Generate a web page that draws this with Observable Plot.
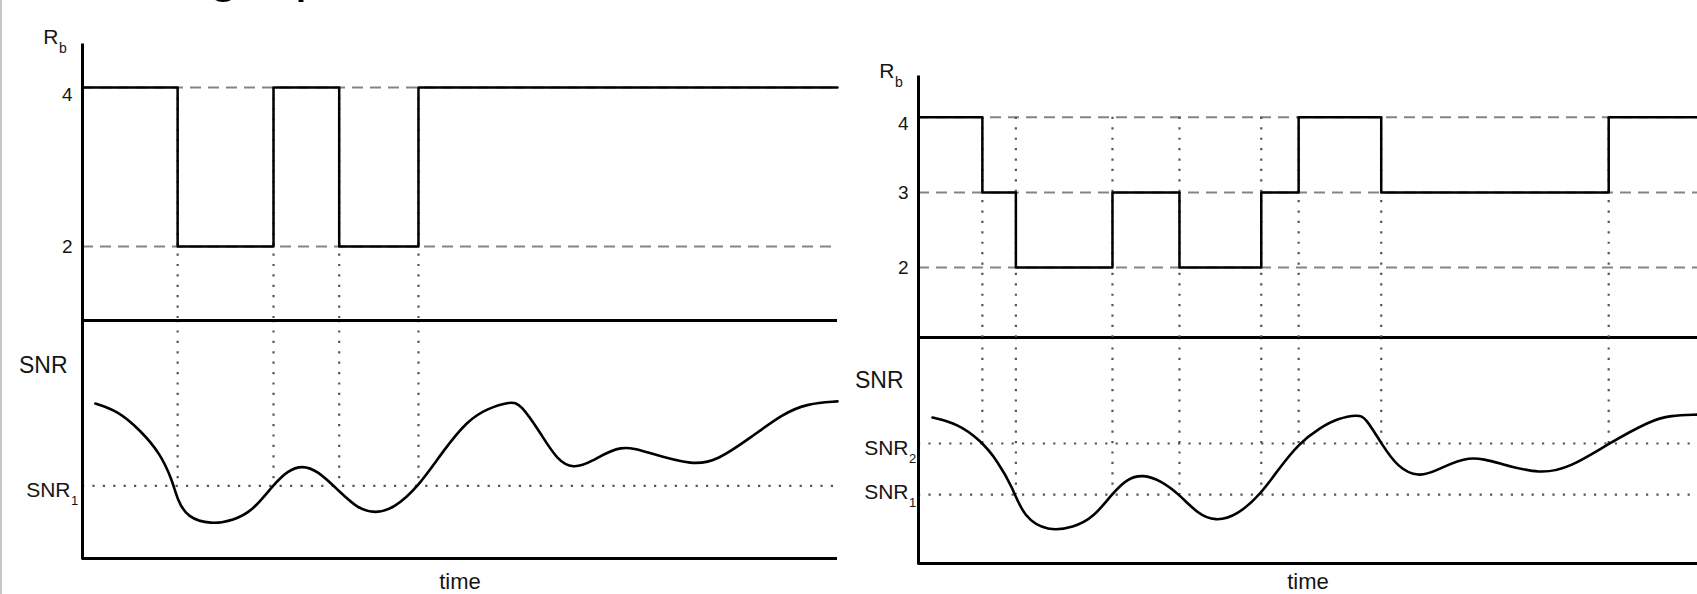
<!DOCTYPE html>
<html>
<head>
<meta charset="utf-8">
<script src="https://cdn.jsdelivr.net/npm/d3@7"></script>
<script src="https://cdn.jsdelivr.net/npm/@observablehq/plot@0.6"></script>
<style>
  html, body { margin: 0; padding: 0; background: #fff; overflow: hidden; }
  #wrap { position: relative; width: 1697px; height: 594px; overflow: hidden; background: #fff; }
  #edge { position: absolute; left: 0; top: 0; width: 2px; height: 594px; background: #c6c6c6; }
  #title { position: absolute; left: 208px; top: -57px; font: 56px/1 "Liberation Sans", Arial, sans-serif;
           word-spacing: 40px; color: #000; white-space: nowrap; }
  #wrap svg { position: absolute; }
</style>
</head>
<body>
<div id="wrap"><div id="edge"></div><div id="title">g p</div></div>
<script>
// ---------------- data ----------------
const timeDomain = [0, 100];
const rbDomain = [1.07, 4.53];
const snrDomain = [0, 10];

// left chart
const leftRbTicks = [4, 2];
const leftRbTimes = [0, 12.6, 25.3, 34.0, 44.5, 100];
const leftRbValues = [4, 2, 4, 2, 4, 4];
const leftSwitchTimes = [12.6, 25.3, 34.0, 44.5];
const leftSwitchLevels = [3.05, 3.05, 3.05, 3.05];
const leftThresholdNames = ["1"];
const leftThresholdValues = [3.05];
const leftSnrTimes = [1.7, 1.7, 4.6, 7.7, 10.3, 11.9, 12.6, 13.9, 17.0, 20.0, 22.6, 25.2, 27.2, 29.1, 31.1, 33.9, 36.4, 38.8, 41.2, 44.4, 47.8, 51.0, 53.6, 56.7, 58.0, 60.7, 62.9, 65.0, 67.3, 71.3, 75.2, 80.9, 84.1, 88.5, 92.8, 96.0, 100, 100];
const leftSnrValues = [6.51, 6.51, 6.22, 5.38, 4.41, 3.28, 2.44, 1.72, 1.43, 1.60, 2.02, 3.07, 3.70, 3.91, 3.70, 2.86, 2.10, 1.89, 2.10, 2.98, 4.54, 5.80, 6.30, 6.60, 6.51, 5.25, 4.12, 3.78, 4.03, 4.83, 4.41, 3.91, 4.12, 5.08, 6.09, 6.51, 6.60, 6.60];

// right chart
const rightRbTicks = [4, 3, 2];
const rightRbTimes = [0, 8.2, 12.5, 24.9, 33.5, 44.0, 48.8, 59.4, 88.6, 100];
const rightRbValues = [4, 3, 2, 3, 2, 3, 4, 3, 4, 4];
const rightSwitchTimes = [8.2, 12.5, 24.9, 33.5, 44.0, 48.8, 59.4, 88.6];
const rightSwitchLevels = [5.31, 3.05, 3.05, 3.05, 3.05, 5.31, 5.31, 5.31];
const rightThresholdNames = ["2", "1"];
const rightThresholdValues = [5.31, 3.05];
const rightSnrTimes = [1.8, 1.8, 5.0, 8.0, 10.1, 12.1, 13.5, 16.6, 19.9, 22.5, 24.9, 26.8, 28.8, 31.1, 33.5, 35.8, 38.1, 40.9, 44.0, 46.1, 48.8, 51.6, 53.8, 56.4, 57.4, 59.4, 61.5, 64.2, 66.6, 70.6, 74.7, 79.8, 83.7, 88.6, 94.0, 96.5, 100, 100];
const rightSnrValues = [6.46, 6.46, 6.19, 5.44, 4.56, 3.36, 2.04, 1.42, 1.59, 2.04, 3.10, 3.76, 3.94, 3.67, 3.05, 2.21, 1.86, 2.12, 3.10, 4.12, 5.31, 6.02, 6.42, 6.59, 6.46, 5.31, 4.25, 3.81, 4.12, 4.82, 4.42, 3.94, 4.25, 5.31, 6.33, 6.55, 6.59, 6.59];

// ---------------- style ----------------
const FONT = '"Liberation Sans", Arial, Helvetica, sans-serif';
const INK = "#000";
const TEXT = "#151515";
const GRID = "#858585";
const DOT = "#555";
const DASH = "11,7";
const DOTS = "2.2,8.2";

const layout = {
  left:  { left: 0,   width: 845, axis: 82, right: 8, top: 45, divider: 320, bottom: 558,
           rbDy: -2, snrDy: 52, thDx: -12, thDy: [11], timeDy: 30 },
  right: { left: 845, width: 852, axis: 73, right: 0, top: 77, divider: 337, bottom: 563,
           rbDy: 0, snrDy: 50, thDx: -10, thDy: [12, 4], timeDy: 25 }
};
const BOTTOM_TOP = 300, BOTTOM_H = 294;

function rbPlot(d, L) {
  const steps = d.rbTimes.map((t, i) => ({t, rb: d.rbValues[i]}));
  const top = d3.max(d.rbTicks);
  const switches = d.switchTimes.map(t => ({t}));
  const first = d.rbTicks.filter(v => v === top);
  const rest = d.rbTicks.filter(v => v !== top);
  const axisOpts = {tickSize: 0, tickPadding: 10, fontSize: 19, label: null, fill: TEXT, tickFormat: v => String(v)};
  const svg = Plot.plot({
    width: L.width, height: L.divider + 2,
    marginLeft: L.axis, marginRight: L.right, marginTop: L.top, marginBottom: 2,
    style: {fontFamily: FONT, background: "transparent", overflow: "visible", color: TEXT},
    x: {domain: timeDomain, axis: null},
    y: {domain: rbDomain, axis: null},
    marks: [
      Plot.ruleY(d.rbTicks, {stroke: GRID, strokeWidth: 2, strokeDasharray: DASH}),
      Plot.ruleX(switches, {x: "t", y1: top, y2: rbDomain[0], stroke: DOT, strokeWidth: 2.2, strokeDasharray: DOTS}),
      Plot.line(steps, {x: "t", y: "rb", curve: "step-after", stroke: INK, strokeWidth: 2.5}),
      Plot.ruleX([0], {stroke: INK, strokeWidth: 3, strokeLinecap: "square"}),
      Plot.axisY(first, {...axisOpts, dy: 7}),
      Plot.axisY(rest, {...axisOpts}),
      Plot.text(["R"], {frameAnchor: "top-left", dx: -24, dy: L.rbDy, textAnchor: "end", lineAnchor: "bottom", fontSize: 21, fill: TEXT}),
      Plot.text(["b"], {frameAnchor: "top-left", dx: -23.5, dy: L.rbDy + 9, textAnchor: "start", lineAnchor: "bottom", fontSize: 14, fill: TEXT})
    ]
  });
  svg.style.left = L.left + "px";
  svg.style.top = "0px";
  return svg;
}

function snrPlot(d, L) {
  const curve = d.snrTimes.map((t, i) => ({t, snr: d.snrValues[i]}));
  const switches = d.switchTimes.map((t, i) => ({t, level: d.switchLevels[i]}));
  const thresholds = d.thresholdNames.map((n, i) => ({n, v: d.thresholdValues[i], dy: L.thDy[i]}));
  const svg = Plot.plot({
    width: L.width, height: BOTTOM_H,
    marginLeft: L.axis, marginRight: L.right,
    marginTop: L.divider - BOTTOM_TOP, marginBottom: BOTTOM_H - (L.bottom - BOTTOM_TOP),
    style: {fontFamily: FONT, background: "transparent", overflow: "visible", color: TEXT},
    x: {domain: timeDomain, axis: null},
    y: {domain: snrDomain, axis: null},
    marks: [
      Plot.ruleY(thresholds, {y: "v", stroke: DOT, strokeWidth: 2.2, strokeDasharray: DOTS}),
      Plot.ruleX(switches, {x: "t", y1: snrDomain[1], y2: "level", stroke: DOT, strokeWidth: 2.2, strokeDasharray: DOTS}),
      Plot.line(curve, {x: "t", y: "snr", curve: "basis", stroke: INK, strokeWidth: 2.6}),
      Plot.ruleX([0], {stroke: INK, strokeWidth: 3, strokeLinecap: "square"}),
      Plot.ruleY([snrDomain[0], snrDomain[1]], {stroke: INK, strokeWidth: 3}),
      Plot.text(["SNR"], {frameAnchor: "top-left", dx: -15, dy: L.snrDy, textAnchor: "end", lineAnchor: "bottom", fontSize: 23, fill: TEXT}),
      ...thresholds.flatMap(th => [
        Plot.text([th], {x: 0, y: "v", text: () => "SNR", dx: L.thDx, dy: th.dy, textAnchor: "end", lineAnchor: "bottom", fontSize: 21, fill: TEXT}),
        Plot.text([th], {x: 0, y: "v", text: "n", dx: L.thDx + 0.5, dy: th.dy + 8, textAnchor: "start", lineAnchor: "bottom", fontSize: 13, fill: TEXT})
      ]),
      Plot.text(["time"], {frameAnchor: "bottom", dy: L.timeDy, lineAnchor: "bottom", fontSize: 22, fill: TEXT})
    ]
  });
  svg.style.left = L.left + "px";
  svg.style.top = BOTTOM_TOP + "px";
  return svg;
}

const leftData = {
  rbTicks: leftRbTicks, rbTimes: leftRbTimes, rbValues: leftRbValues,
  switchTimes: leftSwitchTimes, switchLevels: leftSwitchLevels,
  thresholdNames: leftThresholdNames, thresholdValues: leftThresholdValues,
  snrTimes: leftSnrTimes, snrValues: leftSnrValues
};
const rightData = {
  rbTicks: rightRbTicks, rbTimes: rightRbTimes, rbValues: rightRbValues,
  switchTimes: rightSwitchTimes, switchLevels: rightSwitchLevels,
  thresholdNames: rightThresholdNames, thresholdValues: rightThresholdValues,
  snrTimes: rightSnrTimes, snrValues: rightSnrValues
};

const wrap = document.getElementById("wrap");
wrap.appendChild(snrPlot(leftData, layout.left));
wrap.appendChild(rbPlot(leftData, layout.left));
wrap.appendChild(snrPlot(rightData, layout.right));
wrap.appendChild(rbPlot(rightData, layout.right));
</script>
</body>
</html>
